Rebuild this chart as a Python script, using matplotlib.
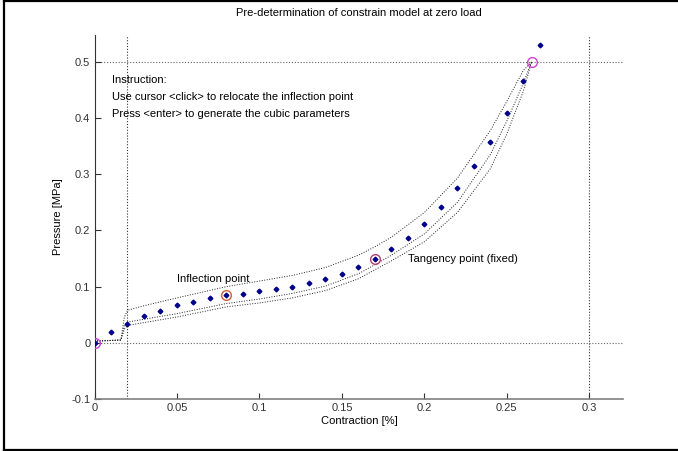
import matplotlib
matplotlib.use("Agg")
import matplotlib.pyplot as plt
from matplotlib.lines import Line2D

plt.rcParams['font.family'] = ['Liberation Sans', 'DejaVu Sans']

title = "Pre-determination of constrain model at zero load"
xlabel = "Contraction [%]"
ylabel = "Pressure [MPa]"
instructions = ["Instruction:",
                "Use cursor <click> to relocate the inflection point",
                "Press <enter> to generate the cubic parameters"]

# blue data points
pts_x = [0.0, 0.01, 0.02, 0.03, 0.04, 0.05, 0.06, 0.07, 0.08, 0.09, 0.10, 0.11, 0.12,
         0.13, 0.14, 0.15, 0.16, 0.17, 0.18, 0.19, 0.20, 0.21, 0.22, 0.23, 0.24,
         0.25, 0.26, 0.27]
pts_y = [0.0, 0.020, 0.034, 0.047, 0.057, 0.067, 0.073, 0.080, 0.085, 0.087, 0.092,
         0.096, 0.100, 0.107, 0.114, 0.123, 0.135, 0.149, 0.167, 0.186, 0.212,
         0.241, 0.275, 0.314, 0.358, 0.409, 0.466, 0.531]

# dotted envelope curves
band_x = [0.0, 0.016, 0.018, 0.02, 0.03, 0.05, 0.08, 0.10, 0.12, 0.14, 0.16, 0.17,
          0.18, 0.20, 0.22, 0.24, 0.25, 0.26, 0.265]
upper_y = [0.003, 0.005, 0.045, 0.058, 0.066, 0.080, 0.100, 0.110, 0.120, 0.134, 0.156,
           0.171, 0.188, 0.232, 0.293, 0.378, 0.430, 0.485, 0.5]
middle_y = [0.003, 0.005, 0.030, 0.037, 0.042, 0.052, 0.070, 0.078, 0.088, 0.101, 0.123,
            0.139, 0.156, 0.194, 0.250, 0.335, 0.395, 0.462, 0.5]
lower_y = [0.003, 0.005, 0.024, 0.031, 0.036, 0.046, 0.064, 0.071, 0.080, 0.093, 0.114,
           0.130, 0.146, 0.180, 0.232, 0.310, 0.372, 0.448, 0.5]

# special points
end_pts_x = [0.0, 0.265]
end_pts_y = [0.0, 0.5]
inflection = (0.08, 0.085)
tangency = (0.17, 0.149)

# reference lines
href = [0.0, 0.5]
vref = [0.02, 0.3]

xticks = [0, 0.05, 0.1, 0.15, 0.2, 0.25, 0.3]
xticklabels = ["0", "0.05", "0.1", "0.15", "0.2", "0.25", "0.3"]
yticks = [-0.1, 0, 0.1, 0.2, 0.3, 0.4, 0.5]
yticklabels = ["-0.1", "0", "0.1", "0.2", "0.3", "0.4", "0.5"]

fig = plt.figure(figsize=(6.78, 4.51), dpi=100)
ax = fig.add_axes([0.1394, 0.1153, 0.9193 - 0.1394, 0.9224 - 0.1153])

dot = (0, (1, 1.6))
for h in href:
    ax.axhline(h, color='#666666', linestyle=dot, linewidth=0.8, zorder=1)
for v in vref:
    ax.axvline(v, color='#333333', linestyle=dot, linewidth=0.8, zorder=1)

for yy in (upper_y, middle_y, lower_y):
    ax.plot(band_x, yy, color='#222222', linestyle=dot, linewidth=0.7, zorder=2)

ax.plot(pts_x, pts_y, linestyle='none', marker='D', markersize=2.4,
        color='#00008b', zorder=3)
ax.plot(end_pts_x, end_pts_y, linestyle='none', marker='o', markersize=7,
        markerfacecolor='none', markeredgecolor='#d040d0', markeredgewidth=1, zorder=4)
ax.plot([inflection[0]], [inflection[1]], linestyle='none', marker='o', markersize=7,
        markerfacecolor='none', markeredgecolor='#d0603a', markeredgewidth=1, zorder=4)
ax.plot([tangency[0]], [tangency[1]], linestyle='none', marker='o', markersize=7,
        markerfacecolor='none', markeredgecolor='#b04070', markeredgewidth=1, zorder=4)

fs = 8
ax.text(0.050, 0.114, "Inflection point", fontsize=fs, va='center', ha='left')
ax.text(0.190, 0.149, "Tangency point (fixed)", fontsize=fs, va='center', ha='left')
for i, line in enumerate(instructions):
    ax.text(0.0105, 0.468 - i * 0.0305, line, fontsize=fs, va='center', ha='left')

ax.set_xlim(0, 0.3206)
ax.set_ylim(-0.1, 0.548)
ax.set_xticks(xticks)
ax.set_xticklabels(xticklabels)
ax.set_yticks(yticks)
ax.set_yticklabels(yticklabels)
ax.tick_params(direction='in', length=4, labelsize=fs, colors='#333333', pad=3)
ax.spines['top'].set_visible(False)
ax.spines['right'].set_visible(False)
ax.spines['left'].set_color('#333333')
ax.spines['bottom'].set_color('#808080')
ax.spines['bottom'].set_linewidth(1.2)
ax.set_xlabel(xlabel, fontsize=fs, labelpad=2)
ax.set_ylabel(ylabel, fontsize=fs, labelpad=6)
ax.set_title(title, fontsize=fs, pad=14)

# figure border (left, top, bottom)
W, H = 678.0, 451.0
bx0, by0, by1 = 4 / W, 1 - 449.5 / H, 1 - 1.2 / H
fig.add_artist(Line2D([bx0, bx0], [by0, by1], color='black', linewidth=1.6, transform=fig.transFigure))
fig.add_artist(Line2D([bx0, 1.0], [by1, by1], color='black', linewidth=1.6, transform=fig.transFigure))
fig.add_artist(Line2D([bx0, 1.0], [by0, by0], color='black', linewidth=1.6, transform=fig.transFigure))

fig.savefig("out.png", dpi=100)
